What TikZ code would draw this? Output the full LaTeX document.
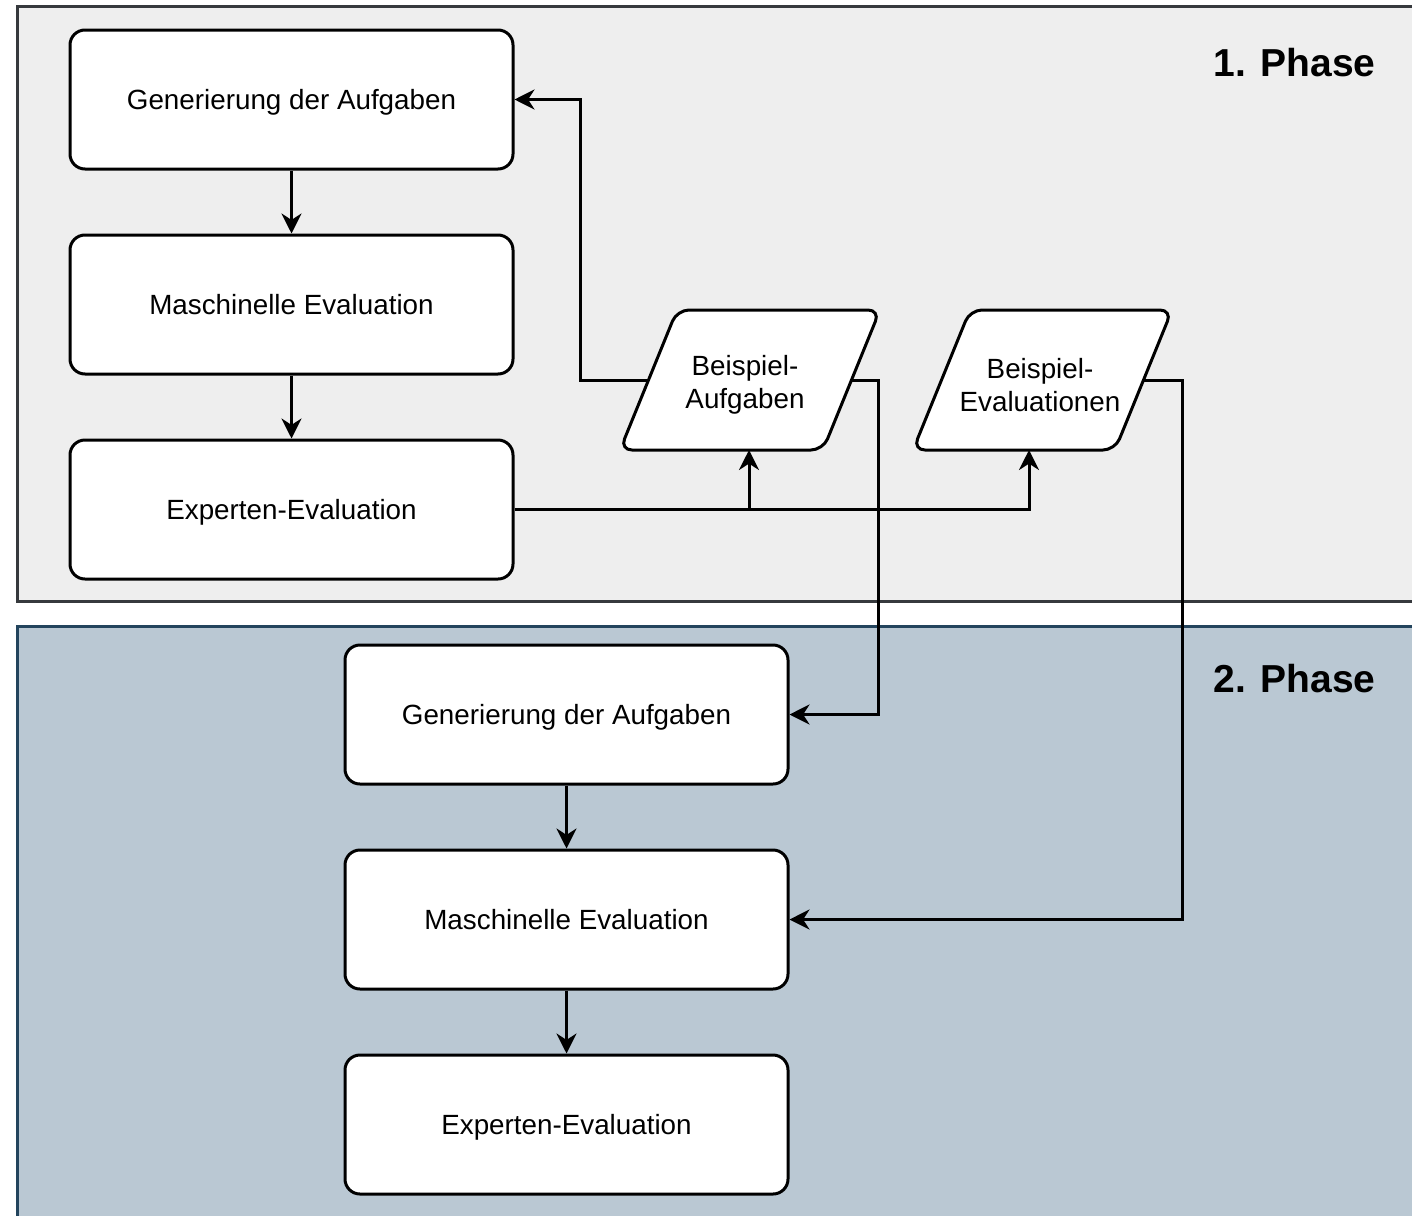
\documentclass[tikz,border=0pt]{standalone}
\usepackage{fontspec}
\setmainfont{Liberation Sans}
\usetikzlibrary{arrows.meta}
\definecolor{ph1fill}{HTML}{EEEEEE}
\definecolor{ph1line}{HTML}{36393D}
\definecolor{ph2fill}{HTML}{BAC8D3}
\definecolor{ph2line}{HTML}{23445D}
\tikzset{
  procbox/.style={draw=black, fill=white, line width=1.5pt, rounded corners=7.5pt,
    minimum width=221.5pt, minimum height=69.5pt, inner sep=0pt,
    text height=10pt, text depth=0.3pt,
    font=\fontsize{13.9}{16.7}\selectfont},
  datashape/.style={draw=black, fill=white, line width=1.5pt, rounded corners=6pt},
  datatext/.style={inner sep=0pt, align=center, font=\fontsize{13.9}{16.7}\selectfont},
  phaselabel/.style={anchor=east, font=\fontsize{19.5}{23}\selectfont\bfseries, inner sep=0pt},
  conn/.style={draw=black, line width=1.5pt, -{Stealth[length=10pt,width=10pt,inset=3.2pt]}},
}
\begin{document}
\begin{tikzpicture}[x=0.5pt,y=-0.5pt]
\useasboundingbox (0,0) rectangle (1412,1215);
% backgrounds
\path[fill=ph1fill, draw=ph1line, line width=1.5pt] (17,6) rectangle (1425,601);
\path[fill=ph2fill, draw=ph2line, line width=1.5pt] (17,626) rectangle (1425,1225);
\node[phaselabel] (p1) at (1376,63) {1. Phase};
\node[phaselabel] (p2) at (1376,679) {2. Phase};
% phase 1
\node[procbox] (g1) at (291.5,99.5) {Generierung der Aufgaben};
\node[procbox] (m1) at (291.5,304.5) {Maschinelle Evaluation};
\node[procbox] (e1) at (291.5,509.5) {Experten-Evaluation};
% parallelograms (data)
\path[datashape] (620,450) -- (677,310) -- (880,310) -- (823,450) -- cycle;
\node[datatext] (ba) at (745,385) {Beispiel-\\Aufgaben};
\path[datashape] (913,450) -- (970,310) -- (1172,310) -- (1115,450) -- cycle;
\node[datatext] (be) at (1040,385) {Beispiel-\\Evaluationen};
\coordinate (baW) at (648.5,380);
\coordinate (baE) at (851.5,380);
\coordinate (baS) at (749,450);
\coordinate (beE) at (1143.5,380);
\coordinate (beS) at (1029,450);
% phase 2
\node[procbox] (g2) at (566.5,714.5) {Generierung der Aufgaben};
\node[procbox] (m2) at (566.5,919.5) {Maschinelle Evaluation};
\node[procbox] (e2) at (566.5,1124.5) {Experten-Evaluation};
% helper coordinates on the routes
\coordinate (ka) at (580,250);
\coordinate (kb) at (878,550);
\coordinate (kc) at (1182,650);
% connectors
\draw[conn] (g1) -- (m1);
\draw[conn] (m1) -- (e1);
\draw[conn] (g2) -- (m2);
\draw[conn] (m2) -- (e2);
\draw[conn] (e1.east) -| (beS);
\draw[conn] (e1.east -| baS) -- (baS);
\draw[conn] (baW) -| (ka) |- (g1.east);
\draw[conn] (baE) -| (kb) |- (g2.east);
\draw[conn] (beE) -| (kc) |- (m2.east);
\end{tikzpicture}
\end{document}
